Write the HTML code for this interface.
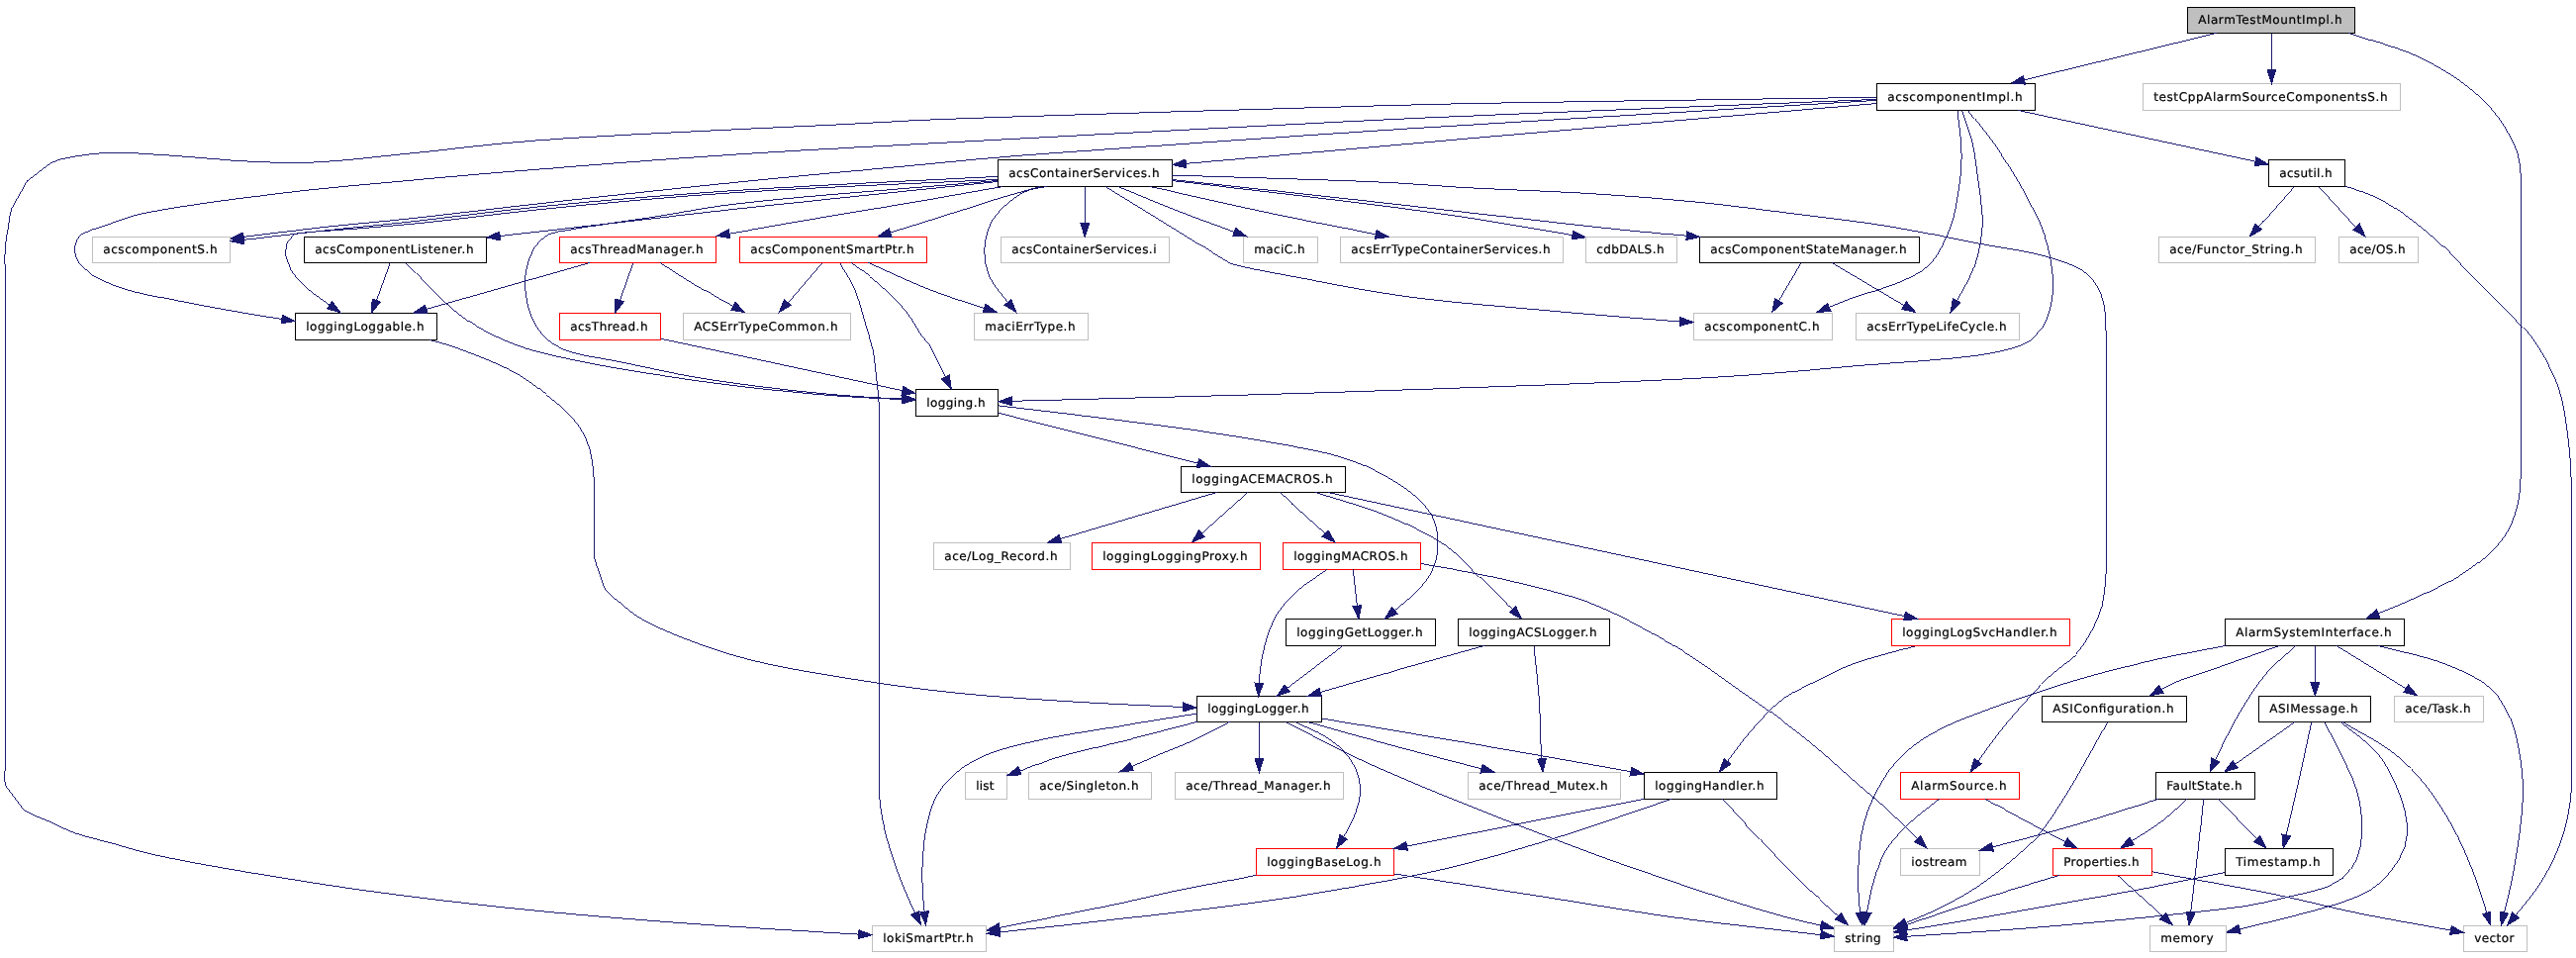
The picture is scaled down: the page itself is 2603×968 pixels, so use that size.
<!DOCTYPE html>
<html><head><meta charset="utf-8"><title>AlarmTestMountImpl.h include graph</title>
<style>html,body{margin:0;padding:0;background:#fff}svg{display:block;will-change:transform}text{font-family:"DejaVu Sans","Liberation Sans",sans-serif;font-size:12px;fill:#000;stroke:#000;stroke-width:.22px;text-rendering:geometricPrecision}.e{fill:none;stroke:#191970;stroke-width:.99}.a{fill:#191970;stroke:#191970;stroke-width:1}</style></head><body>
<svg width="2603" height="968" viewBox="0 0 2603 968">
<rect x="0" y="0" width="2603" height="968" fill="#fff"/>
<g shape-rendering="crispEdges">
<rect x="2210.5" y="7.5" width="169" height="26" fill="#bfbfbf" stroke="#000"/>
<rect x="1896.5" y="84.5" width="160" height="27" fill="#fff" stroke="#000"/>
<rect x="2165.5" y="84.5" width="260" height="27" fill="#fff" stroke="#bfbfbf"/>
<rect x="1008.5" y="161.5" width="176" height="27" fill="#fff" stroke="#000"/>
<rect x="2292.5" y="161.5" width="77" height="27" fill="#fff" stroke="#000"/>
<rect x="93.5" y="239.5" width="139" height="26" fill="#fff" stroke="#bfbfbf"/>
<rect x="307.5" y="239.5" width="184" height="26" fill="#fff" stroke="#000"/>
<rect x="565.5" y="239.5" width="158" height="26" fill="#fff" stroke="#ff0000"/>
<rect x="747.5" y="239.5" width="189" height="26" fill="#fff" stroke="#ff0000"/>
<rect x="1011.5" y="239.5" width="170" height="26" fill="#fff" stroke="#bfbfbf"/>
<rect x="1256.5" y="239.5" width="75" height="26" fill="#fff" stroke="#bfbfbf"/>
<rect x="1354.5" y="239.5" width="225" height="26" fill="#fff" stroke="#bfbfbf"/>
<rect x="1602.5" y="239.5" width="92" height="26" fill="#fff" stroke="#bfbfbf"/>
<rect x="1717.5" y="239.5" width="222" height="26" fill="#fff" stroke="#000"/>
<rect x="2181.5" y="239.5" width="158" height="26" fill="#fff" stroke="#bfbfbf"/>
<rect x="2363.5" y="239.5" width="80" height="26" fill="#fff" stroke="#bfbfbf"/>
<rect x="298.5" y="316.5" width="143" height="27" fill="#fff" stroke="#000"/>
<rect x="565.5" y="316.5" width="102" height="27" fill="#fff" stroke="#ff0000"/>
<rect x="690.5" y="316.5" width="169" height="27" fill="#fff" stroke="#bfbfbf"/>
<rect x="984.5" y="316.5" width="115" height="27" fill="#fff" stroke="#bfbfbf"/>
<rect x="1711.5" y="316.5" width="140" height="27" fill="#fff" stroke="#bfbfbf"/>
<rect x="1875.5" y="316.5" width="165" height="27" fill="#fff" stroke="#bfbfbf"/>
<rect x="925.5" y="393.5" width="83" height="27" fill="#fff" stroke="#000"/>
<rect x="1193.5" y="471.5" width="166" height="26" fill="#fff" stroke="#000"/>
<rect x="943.5" y="548.5" width="138" height="27" fill="#fff" stroke="#bfbfbf"/>
<rect x="1103.5" y="548.5" width="170" height="27" fill="#fff" stroke="#ff0000"/>
<rect x="1296.5" y="548.5" width="139" height="27" fill="#fff" stroke="#ff0000"/>
<rect x="1299.5" y="625.5" width="151" height="27" fill="#fff" stroke="#000"/>
<rect x="1473.5" y="625.5" width="153" height="27" fill="#fff" stroke="#000"/>
<rect x="1911.5" y="625.5" width="180" height="27" fill="#fff" stroke="#ff0000"/>
<rect x="2248.5" y="625.5" width="181" height="27" fill="#fff" stroke="#000"/>
<rect x="1209.5" y="703.5" width="126" height="26" fill="#fff" stroke="#000"/>
<rect x="2063.5" y="703.5" width="146" height="26" fill="#fff" stroke="#000"/>
<rect x="2282.5" y="703.5" width="113" height="26" fill="#fff" stroke="#000"/>
<rect x="2419.5" y="703.5" width="90" height="26" fill="#fff" stroke="#bfbfbf"/>
<rect x="975.5" y="780.5" width="42" height="27" fill="#fff" stroke="#bfbfbf"/>
<rect x="1039.5" y="780.5" width="124" height="27" fill="#fff" stroke="#bfbfbf"/>
<rect x="1187.5" y="780.5" width="170" height="27" fill="#fff" stroke="#bfbfbf"/>
<rect x="1483.5" y="780.5" width="154" height="27" fill="#fff" stroke="#bfbfbf"/>
<rect x="1661.5" y="780.5" width="134" height="27" fill="#fff" stroke="#000"/>
<rect x="1920.5" y="780.5" width="120" height="27" fill="#fff" stroke="#ff0000"/>
<rect x="2178.5" y="780.5" width="100" height="27" fill="#fff" stroke="#000"/>
<rect x="1269.5" y="857.5" width="139" height="27" fill="#fff" stroke="#ff0000"/>
<rect x="1920.5" y="857.5" width="80" height="27" fill="#fff" stroke="#bfbfbf"/>
<rect x="2074.5" y="857.5" width="100" height="27" fill="#fff" stroke="#ff0000"/>
<rect x="2248.5" y="857.5" width="109" height="27" fill="#fff" stroke="#000"/>
<rect x="881.5" y="935.5" width="115" height="26" fill="#fff" stroke="#bfbfbf"/>
<rect x="1853.5" y="935.5" width="60" height="26" fill="#fff" stroke="#bfbfbf"/>
<rect x="2172.5" y="935.5" width="77" height="26" fill="#fff" stroke="#bfbfbf"/>
<rect x="2489.5" y="935.5" width="64" height="26" fill="#fff" stroke="#bfbfbf"/>
</g>
<g shape-rendering="crispEdges">
<polyline class="e" points="2239.5,33.5 2045.4,80.8"/>
<polygon class="a" points="2044.4,76.6 2032.5,84 2046.5,85.1"/>
<polyline class="e" points="2295.5,33.5 2295.5,70.7"/>
<polygon class="a" points="2291.1,70.7 2295.5,84 2299.9,70.7"/>
<polyline class="e" points="2372.5,33.5 2384.4,37.3 2396.5,40.9 2408.6,44.5 2420.6,48.3 2432.1,52.4 2443,57 2454.2,62.5 2465,68.5 2475.4,74.8 2485.1,81.3 2494,88 2502.6,95.1 2510.4,102.3 2517.5,109.9 2524,118 2530.1,126.9 2535.7,136.4 2540.5,146 2544,155 2546.5,166.9 2547.3,180 2547.7,189.3 2547.8,199.7 2547.7,211.1 2547.6,223.4 2547.4,236.4 2547.3,250 2547.3,260.7 2547.3,272.4 2547.3,284.9 2547.3,297.9 2547.3,311.4 2547.3,325 2547.3,338.6 2547.3,352.1 2547.3,365.1 2547.3,377.6 2547.3,389.3 2547.3,400 2547.4,413.4 2547.5,426.1 2547.6,438 2547.6,449.2 2547.6,459.9 2547.3,470 2547,483.6 2546.3,496 2544.5,508 2541.4,519.7 2537.1,531.1 2531,542 2523.6,551.1 2514.6,559.9 2504.5,568.2 2494,576 2484.6,582.1 2474.5,587.7 2464.1,593 2453.5,598.1 2443,603 2432.7,607.7 2422.3,612.1 2411.9,616.4 2403.3,619.9"/>
<polygon class="a" points="2401.6,615.9 2391,625 2405,624"/>
<polyline class="e" points="2039.3,111.5 2279,163.2"/>
<polygon class="a" points="2278.1,167.5 2292,166 2279.9,158.9"/>
<polyline class="e" points="1896,104.6 1884,105.6 1871.7,106.7 1859.3,107.8 1846.6,108.8 1833.7,109.9 1820.7,111 1807.6,112.2 1794.4,113.3 1781.1,114.4 1767.7,115.6 1754.3,116.7 1740.8,117.9 1727.4,119 1714,120.2 1700.7,121.3 1687.4,122.4 1674.2,123.6 1661.2,124.7 1648.3,125.8 1635.6,126.9 1623,128 1610.7,129 1598.6,130 1586.7,131.1 1575.2,132.1 1563.9,133 1553,134 1542.4,134.9 1532.2,135.8 1522.4,136.6 1513,137.4 1504,138.2 1495.5,138.9 1487.5,139.6 1480,140.3 1465.6,141.6 1453.7,142.6 1443.4,143.6 1433.7,144.5 1423.9,145.4 1412.9,146.3 1400,147.5 1390.6,148.3 1380.7,149.2 1370.2,150.1 1359.2,151.1 1347.8,152.1 1336,153.2 1324,154.2 1311.6,155.3 1299,156.4 1286.3,157.6 1273.4,158.7 1260.5,159.8 1247.6,161 1234.8,162.1 1222,163.2 1209.5,164.3 1198.2,165.3"/>
<polygon class="a" points="1197.9,160.9 1185,166.5 1198.6,169.7"/>
<polyline class="e" points="1896,101.4 1884,102.1 1871.7,102.9 1859.3,103.6 1846.6,104.4 1833.7,105.2 1820.7,105.9 1807.6,106.7 1794.4,107.5 1781.1,108.3 1767.7,109.1 1754.3,109.9 1740.8,110.7 1727.4,111.5 1714,112.4 1700.7,113.2 1687.4,114 1674.2,114.7 1661.2,115.5 1648.3,116.3 1635.6,117.1 1623,117.8 1610.7,118.6 1598.6,119.3 1586.7,120 1575.2,120.7 1563.9,121.4 1553,122.1 1542.4,122.7 1532.2,123.3 1522.4,123.9 1513,124.5 1504,125 1495.5,125.5 1487.5,126 1480,126.5 1465.8,127.4 1454.3,128.1 1444.5,128.7 1435.2,129.2 1425.4,129.8 1414,130.6 1400,131.5 1392.2,132 1383.7,132.6 1374.4,133.2 1364.4,133.9 1353.8,134.6 1342.7,135.3 1331,136.1 1318.9,136.9 1306.3,137.8 1293.3,138.7 1280.1,139.6 1266.5,140.5 1252.8,141.4 1238.8,142.4 1224.8,143.4 1210.7,144.3 1196.5,145.3 1182.5,146.3 1168.5,147.3 1154.6,148.2 1140.9,149.2 1127.5,150.2 1114.3,151.1 1101.5,152 1089.1,152.9 1077.1,153.8 1065.7,154.6 1054.7,155.4 1044.4,156.2 1034.7,156.9 1025.7,157.6 1017.4,158.3 1010,158.9 995.5,160.1 983.8,161.2 973.7,162.2 963.9,163.2 953.1,164.2 940,165.5 930.9,166.4 921.1,167.3 910.7,168.3 899.8,169.3 888.4,170.3 876.7,171.4 864.5,172.6 852.2,173.7 839.6,174.9 826.9,176.1 814.1,177.3 801.3,178.6 788.6,179.8 776.1,181 763.8,182.2 751.7,183.4 740,184.6 727.5,185.9 714.9,187.2 702.4,188.5 689.8,189.8 677.3,191.2 664.8,192.5 652.4,193.8 640,195.2 627.7,196.5 615.5,197.9 603.3,199.2 591.3,200.6 579.4,201.9 567.6,203.2 556,204.5 543.1,206 530.2,207.4 517.4,208.9 504.6,210.4 491.9,211.9 479.4,213.4 467.1,214.8 455.1,216.2 443.3,217.6 431.8,218.9 420.7,220.1 410,221.3 396.8,222.7 384.4,223.9 372.6,225 361.1,226.1 349.6,227.2 338,228.4 326,229.7 314.6,231 303.1,232.3 291.5,233.8 279.8,235.2 268.1,236.7 256.4,238.1 246.2,239.4"/>
<polygon class="a" points="245.7,235 233,241 246.7,243.7"/>
<polyline class="e" points="1896,100.4 1884,100.9 1871.7,101.4 1859.3,101.9 1846.6,102.4 1833.7,102.9 1820.7,103.4 1807.6,104 1794.4,104.5 1781.1,105 1767.7,105.6 1754.3,106.1 1740.8,106.7 1727.4,107.2 1714,107.7 1700.7,108.3 1687.4,108.8 1674.2,109.3 1661.2,109.9 1648.3,110.4 1635.6,110.9 1623,111.4 1610.7,111.9 1598.6,112.4 1586.7,112.9 1575.2,113.4 1563.9,113.8 1553,114.3 1542.4,114.7 1532.2,115.1 1522.4,115.5 1513,115.9 1504,116.3 1495.5,116.6 1487.5,117 1480,117.3 1465.9,117.9 1454.5,118.4 1444.8,118.8 1435.6,119.2 1425.8,119.7 1414.3,120.2 1400,120.9 1392.6,121.3 1384.5,121.7 1375.8,122.1 1366.6,122.6 1356.8,123 1346.6,123.6 1335.8,124.1 1324.7,124.7 1313.1,125.3 1301.2,125.9 1288.9,126.5 1276.3,127.2 1263.4,127.8 1250.2,128.5 1236.9,129.2 1223.3,129.9 1209.6,130.6 1195.8,131.3 1181.8,132.1 1167.8,132.8 1153.8,133.5 1139.8,134.3 1125.8,135 1111.8,135.7 1098,136.5 1084.2,137.2 1070.6,137.9 1057.2,138.6 1044,139.3 1031.1,140 1018.4,140.7 1006,141.3 994,142 982.3,142.6 971.1,143.2 960.2,143.8 949.9,144.4 940,144.9 926.1,145.7 912.7,146.4 899.8,147.1 887.3,147.7 875.2,148.4 863.3,149 851.8,149.7 840.5,150.3 829.3,150.9 818.2,151.5 807.3,152.1 796.3,152.8 785.3,153.4 774.2,154.1 763,154.8 751.6,155.5 740,156.3 728.2,157.1 716.2,157.9 704.1,158.8 691.9,159.6 679.6,160.5 667.4,161.4 655.1,162.3 642.9,163.3 630.8,164.2 618.8,165.1 606.9,166.1 595.2,167 583.6,167.9 572.3,168.8 561.2,169.7 550.5,170.6 540,171.4 526.7,172.5 514,173.5 501.8,174.5 490,175.5 478.3,176.5 466.8,177.6 455.2,178.6 443.4,179.6 431.4,180.7 419,181.9 407.3,183 395.3,184.1 383.2,185.2 371,186.3 358.7,187.4 346.3,188.6 333.8,189.8 321.4,191.1 309,192.3 296.7,193.7 284.5,195.1 272.5,196.6 259.5,198.3 246,200 232.2,201.8 218.2,203.7 204.4,205.7 190.9,207.7 178,209.7 165.9,211.7 154.7,213.7 144.8,215.7 136.3,217.6 120.7,222.6 108,227.5 93.4,232 81.8,236.9 77,243.5 75.1,251.1 76.5,259 79.7,265.8 92.2,277.3 101.6,282.5 113,287.5 125.8,292 137,295.2 149.4,298 162.5,300.6 175.8,303.1 188.7,305.6 201.4,308.1 214.3,310.5 227.1,312.8 239.6,315 251.6,317.1 263.7,319.1 275.2,320.9 284.9,322.4"/>
<polygon class="a" points="284.2,326.8 298,324.5 285.5,318.1"/>
<polyline class="e" points="1896,98.3 1884,98.5 1871.7,98.7 1859.3,98.9 1846.6,99 1833.7,99.2 1820.7,99.4 1807.6,99.6 1794.4,99.8 1781.1,100 1767.7,100.2 1754.3,100.4 1740.8,100.6 1727.4,100.8 1714,101 1700.7,101.2 1687.4,101.4 1674.2,101.6 1661.2,101.8 1648.3,101.9 1635.6,102.1 1623,102.3 1610.7,102.5 1598.6,102.7 1586.7,102.9 1575.2,103.1 1563.9,103.2 1553,103.4 1542.4,103.6 1532.2,103.8 1522.4,103.9 1513,104.1 1504,104.2 1495.5,104.4 1487.5,104.6 1480,104.7 1465.9,105 1454.5,105.2 1444.8,105.5 1435.6,105.7 1425.8,106 1414.3,106.3 1400,106.7 1392.5,106.9 1384.2,107.1 1375.2,107.4 1365.6,107.7 1355.3,108 1344.4,108.3 1332.9,108.6 1321,108.9 1308.6,109.3 1295.8,109.7 1282.6,110.1 1269.1,110.5 1255.3,110.9 1241.3,111.3 1227,111.7 1212.6,112.1 1198,112.6 1183.4,113 1168.8,113.4 1154.1,113.9 1139.5,114.3 1125,114.8 1110.6,115.2 1096.4,115.7 1082.4,116.1 1068.7,116.5 1055.3,117 1042.2,117.4 1029.6,117.8 1017.3,118.2 1005.6,118.6 994.3,119 983.6,119.4 973.5,119.7 964.1,120.1 955.3,120.4 947.3,120.7 940,121 925,121.7 913.3,122.2 903.4,122.8 893.5,123.4 882.3,124 868,124.8 859.8,125.2 850.8,125.7 841.1,126.2 830.7,126.7 819.6,127.2 808,127.7 795.9,128.3 783.3,128.9 770.3,129.5 757,130.1 743.5,130.8 729.7,131.4 715.8,132.1 701.8,132.8 687.8,133.5 673.8,134.2 659.9,134.9 646.2,135.6 632.7,136.3 619.5,137 606.7,137.8 594.2,138.5 582.2,139.2 570.7,139.9 559.8,140.7 549.5,141.4 540,142.1 525.5,143.3 511.9,144.5 499.1,145.8 486.9,147.1 475.2,148.3 463.9,149.6 452.8,150.9 441.7,152.1 430.5,153.3 419,154.5 406.9,155.7 394.8,157 382.6,158.3 370.6,159.6 358.7,160.8 347.1,161.9 335.8,162.8 324.9,163.6 314.5,164.1 301.1,164.4 288.6,164.4 276.6,164.2 264.5,163.7 251.6,163.1 240.1,162.5 227.9,161.6 215.5,160.6 202.9,159.5 190.6,158.5 178.8,157.6 167.7,156.8 153.4,155.9 139.9,155 127.2,154.4 115.3,154.3 104.2,154.7 94,155.5 83.9,156.8 72.8,158.6 61.7,160.9 52.4,164.1 39.8,173.5 27.3,183 19.4,197.2 11.5,211.3 9.6,220.4 8.4,230 6.7,239.1 5.3,249 4.9,260.4 5.1,273.2 5.3,286.8 5.3,298.8 5.3,311 5.3,324.5 5.3,340 5.3,349.4 5.3,359.7 5.3,370.7 5.3,382.3 5.3,394.5 5.3,407.1 5.3,420 5.3,433.3 5.3,446.6 5.3,460.1 5.3,473.5 5.3,486.9 5.3,500 5.3,511.3 5.3,523.1 5.3,535.2 5.3,547.6 5.3,560.1 5.3,572.8 5.3,585.6 5.3,598.3 5.3,610.9 5.3,623.4 5.3,635.6 5.3,647.5 5.3,659.1 5.3,670.2 5.3,680.7 5.3,690.7 5.3,700 5.3,715.2 5.3,729.5 5.3,742.9 5.3,755.1 5.3,765.8 5.3,775 4.6,785.3 5.3,793.4 14.5,805.7 23.6,818 35.3,824.2 48.9,829.6 61.1,835.6 74.2,841.3 86.7,845.2 100.2,848.7 113.8,852.2 125.9,855.8 138,859.3 153.4,863.2 161.2,864.9 169.9,866.7 179.6,868.6 190,870.6 201.1,872.7 212.7,874.8 224.8,876.9 237.3,879.1 250,881.3 262.9,883.4 275.8,885.5 288.6,887.6 301.3,889.6 313.6,891.6 325.7,893.5 337.2,895.2 349.4,897 361.6,898.8 373.8,900.5 385.8,902.1 397.9,903.7 409.9,905.3 421.9,906.8 433.9,908.3 445.8,909.7 457.8,911.1 469.8,912.5 481.8,913.9 493.8,915.2 505.8,916.5 517.8,917.8 529.8,919 541.7,920.2 553.6,921.4 565.5,922.5 577.4,923.6 589.3,924.6 601.3,925.7 613.3,926.7 625.4,927.7 637.5,928.7 649.7,929.7 662,930.6 674.4,931.6 686.5,932.5 699.5,933.5 713.1,934.4 727.2,935.4 741.5,936.3 756,937.2 770.4,938.2 784.6,939.1 798.3,939.9 811.5,940.7 823.9,941.5 835.3,942.2 845.6,942.8 854.6,943.3 862.1,943.8 867.7,944.1"/>
<polygon class="a" points="867.5,948.5 881,944.8 868,939.7"/>
<polyline class="e" points="1978,111.5 1979.4,123.6 1980.8,135.7 1981.7,146.8 1982.1,157.8 1981.8,168.6 1981,178.4 1979.7,188.7 1978,199 1976.3,209.1 1974.2,219.1 1971,229.3 1967.1,238.9 1962.4,248.9 1957,258.4 1950.8,266.4 1942.9,273.2 1934,278.4 1923.8,283.3 1914.1,287.3 1903.1,291.1 1891.5,294.7 1880.2,298.3 1869.9,301.8 1858,306.4 1848.3,310.4"/>
<polygon class="a" points="1846.6,306.4 1836,315.5 1850,314.5"/>
<polyline class="e" points="1982.8,111.5 1986.5,122.5 1990.1,133.6 1993.2,144.7 1995.4,155.5 1996.9,166.5 1998.4,178.2 2000.1,190.4 2001.8,203.5 2003,216.7 2003.1,229.3 2001.6,243.2 1998.8,256.5 1994.7,269.8 1989.8,281.2 1983.8,292.6 1977.4,303.8"/>
<polygon class="a" points="1973.5,301.7 1971,315.5 1981.3,306"/>
<polyline class="e" points="1989,111.5 1996,120.4 2003,129.3 2009.9,138.1 2016.3,146.8 2022.9,156.5 2028.9,165.9 2035.1,176.1 2041.2,186.4 2047.5,197.5 2053.6,208.7 2058.7,219.2 2063,229.1 2066.4,238.5 2069.3,248.5 2072.1,262.2 2074,276.7 2074.7,290 2073.6,302.7 2071,314 2068.1,323 2064,331 2052,344 2043.1,348.6 2032,352.3 2018,355.7 2009.3,357.4 1999.4,358.9 1988.3,360.3 1976.2,361.6 1963.5,362.8 1950.2,363.9 1936.5,365 1922.7,366.1 1909,367.1 1895.5,368.1 1882.4,369.1 1870,370.2 1857.8,371.3 1846.1,372.4 1834.8,373.4 1823.5,374.4 1812.3,375.4 1801,376.4 1789.3,377.3 1777.1,378.2 1764.3,379.2 1750.6,380.1 1736,381 1726.7,381.5 1717,382.1 1707,382.6 1696.6,383.2 1685.9,383.7 1674.9,384.2 1663.7,384.7 1652.2,385.3 1640.4,385.8 1628.5,386.3 1616.3,386.8 1604,387.3 1591.5,387.8 1578.9,388.3 1566.1,388.8 1553.3,389.3 1540.4,389.7 1527.4,390.2 1514.4,390.7 1501.3,391.1 1488.3,391.6 1475.2,392 1462.3,392.5 1449.3,392.9 1436.5,393.4 1423.7,393.8 1411.1,394.2 1398.5,394.7 1386.2,395.1 1374,395.5 1361.9,395.9 1349.7,396.3 1337.6,396.7 1325.4,397.1 1313.3,397.5 1301.1,397.8 1288.9,398.2 1276.8,398.5 1264.6,398.9 1252.5,399.2 1240.3,399.6 1228.1,399.9 1215.9,400.2 1203.8,400.5 1191.6,400.9 1179.4,401.2 1167.3,401.5 1155.1,401.8 1142.9,402.1 1130.7,402.5 1118.5,402.8 1106.4,403.1 1094.2,403.4 1082,403.7 1069.9,404.1 1057.7,404.4 1045.5,404.7 1033.3,405 1022.3,405.3"/>
<polygon class="a" points="1022.2,400.9 1009,405.7 1022.4,409.7"/>
<polyline class="e" points="1008,178.3 995.8,179 983.4,179.6 971,180.2 958.6,180.9 946.1,181.5 933.5,182.1 921,182.7 908.4,183.4 895.9,184 883.3,184.6 870.8,185.2 858.4,185.9 846,186.5 833.7,187.2 821.5,187.8 809.4,188.5 797.5,189.2 785.6,189.8 774,190.5 762.5,191.2 751.1,192 740,192.7 726.7,193.6 713.6,194.5 700.7,195.5 688,196.4 675.5,197.3 663.1,198.3 650.8,199.3 638.7,200.3 626.7,201.3 614.8,202.3 603,203.3 591.2,204.4 579.6,205.5 568,206.6 556.4,207.7 543.4,209 530.5,210.4 517.5,211.9 504.6,213.3 491.8,214.8 479.2,216.4 466.8,217.9 454.6,219.3 442.8,220.8 431.3,222.1 420.2,223.4 409.6,224.6 397,225.9 385.3,227.2 374.2,228.3 363.4,229.4 352.6,230.4 341.6,231.6 330,232.8 318.3,234.1 306.4,235.4 294.3,236.8 282.1,238.2 269.8,239.6 257.5,241 246.2,242.3"/>
<polygon class="a" points="245.7,237.9 233,243.8 246.7,246.7"/>
<polyline class="e" points="1008,181.4 995.8,182 983.4,182.6 971,183.2 958.6,183.8 946.1,184.3 933.5,184.9 921,185.5 908.4,186 895.9,186.6 883.3,187.1 870.8,187.7 858.4,188.3 846,188.9 833.7,189.5 821.5,190.1 809.4,190.7 797.5,191.3 785.6,192 774,192.7 762.5,193.4 751.1,194.1 740,194.8 726.7,195.7 713.6,196.7 700.6,197.6 687.8,198.6 675.2,199.6 662.8,200.7 650.4,201.7 638.3,202.8 626.2,203.9 614.3,204.9 602.5,206 590.8,207.1 579.3,208.3 567.8,209.4 556.4,210.5 544.2,211.8 532,213.1 519.9,214.4 508,215.8 496.2,217.2 484.6,218.6 473.1,220 461.9,221.3 450.8,222.6 440,223.8 429.4,225 419,226 404.7,227.3 390.1,228.6 375.9,229.8 362.3,230.9 349.8,231.8 338.9,232.6 330,233.3 313,234.4 296.4,236.5 290.2,244.4 288.1,256.9 294.4,273.6 300.9,282.2 309,290.3 319.4,298.5 330,306 333.2,308.3"/>
<polygon class="a" points="330.6,311.8 344,316 335.7,304.7"/>
<polyline class="e" points="1008,183.5 995.7,184.8 983.2,186.1 970.6,187.4 957.8,188.7 945,190.1 932.1,191.4 919.1,192.7 906.1,194.1 893.1,195.4 880.2,196.8 867.4,198.1 854.7,199.4 842.1,200.7 829.7,202 817.5,203.3 805.5,204.6 793.7,205.8 782.3,207 771.2,208.2 760.4,209.4 750,210.5 740,211.6 726,213.2 712.9,214.6 700.4,216.1 688.4,217.4 676.9,218.8 665.5,220.1 654.2,221.4 642.9,222.8 631.3,224.1 619.3,225.5 607.9,226.8 596.4,228.1 584.8,229.4 573.3,230.8 561.7,232.1 550.1,233.4 538.4,234.7 526.8,236 515.2,237.4 505.2,238.5"/>
<polygon class="a" points="504.7,234.1 492,240 505.7,242.9"/>
<polyline class="e" points="1008,182.5 995.7,183.6 983,184.7 970.2,185.8 957.1,186.9 943.9,188 930.6,189.1 917.2,190.2 903.8,191.3 890.5,192.4 877.2,193.5 864,194.6 851,195.7 838.3,196.7 825.7,197.8 813.5,198.9 801.6,200 790.1,201.1 779,202.2 768.4,203.3 758.4,204.4 748.9,205.4 740,206.5 726.2,208.3 714,210.2 702.9,212 692.5,213.8 682.4,215.6 672,217.4 661,219.2 648.7,221.1 635.8,222.9 622.6,224.8 609.7,226.7 597.5,228.5 586.6,230.2 577.4,231.8 564.5,233.8 554.3,237 546.1,242.8 539.6,250.6 534.3,262.7 531.2,275.8 530.4,286.3 531.2,296.8 533.3,308.6 537,320 542.2,330.2 549,339.2 557.7,346.8 569,353 578.2,356.2 589,358.8 600.9,361 613.4,363.2 626,365.6 637.1,367.9 648.5,370.4 660.3,372.9 672.5,375.4 684.8,377.9 697.3,380.2 710,382.4 721.2,384.2 732.9,385.9 744.9,387.6 757.1,389.2 769.2,390.8 781.2,392.2 792.8,393.6 804,394.9 814.5,396 828.2,397.4 841.2,398.6 853.6,399.6 865.6,400.5 877.4,401.3 889.8,402 901.6,402.5 911.7,402.9"/>
<polygon class="a" points="911.5,407.3 925,403.4 911.9,398.5"/>
<polyline class="e" points="1013.4,188.5 1001.7,190.6 990,192.6 978.3,194.7 966.7,196.7 955,198.8 943.2,200.9 931.3,202.9 919.3,205 907.9,206.9 896.2,208.9 884.5,210.8 872.7,212.8 860.9,214.7 849.1,216.7 837.4,218.6 825.8,220.6 814.5,222.5 802.9,224.5 791.4,226.5 780.1,228.5 768.8,230.5 757.6,232.5 746.5,234.5 737.1,236.2"/>
<polygon class="a" points="736.3,231.8 724,238.5 737.9,240.5"/>
<polyline class="e" points="1051,188.5 1041,191.3 1031.2,194.1 1021,197 1010,200.3 999.3,203.6 987.7,207.3 975.5,211.1 963.3,215.1 951.3,218.9 940,222.5 928.9,226 918.3,229.3 907.8,232.5 899.7,235.1"/>
<polygon class="a" points="898.4,230.9 887,239 901,239.3"/>
<polyline class="e" points="1058.4,188.5 1049.1,189.9 1040,192 1031.9,195.6 1024,200.8 1012.7,210.2 1003,222 998.6,231.8 995.8,242.7 994.6,253.3 996,267.3 1000,280 1004.5,287.8 1010,295 1018.2,305.2 1018.4,305.5"/>
<polygon class="a" points="1015.1,308.3 1027,315.7 1021.8,302.7"/>
<polyline class="e" points="1096.2,188.5 1096.2,225.7"/>
<polygon class="a" points="1091.8,225.7 1096.2,239 1100.6,225.7"/>
<polyline class="e" points="1117,188.5 1127.8,195.2 1138.8,201.9 1149.6,208.6 1160.3,215.1 1170.6,221.5 1181.7,228.4 1192.7,235.2 1203.1,241.7 1212.5,247.5 1224.8,255.1 1235,261.3 1243.8,266.5 1256,269.6 1266.9,271.9 1280.4,274.5 1296.4,277.5 1305.9,279.3 1316.5,281.3 1327.9,283.5 1340.1,285.9 1352.8,288.3 1365.9,290.7 1379.3,293 1392.7,295.3 1406,297.4 1419,299.3 1430.7,300.9 1442.6,302.3 1454.7,303.7 1466.9,305 1479.2,306.2 1491.6,307.4 1504,308.5 1516.3,309.6 1528.7,310.7 1540.9,311.8 1553,312.8 1565,313.9 1577.8,315.1 1591.4,316.3 1605.5,317.5 1619.7,318.7 1633.7,319.8 1647.3,321 1660.1,322 1671.9,322.9 1682.4,323.8 1691.2,324.4 1697.7,324.9"/>
<polygon class="a" points="1697.5,329.3 1711,325.6 1698,320.5"/>
<polyline class="e" points="1129.7,188.5 1140,192.7 1150.2,196.9 1160.4,201.2 1170.7,205.4 1181.1,209.6 1191.6,213.7 1202.7,218 1214,222.2 1225.4,226.4 1236.9,230.6 1247.2,234.4"/>
<polygon class="a" points="1245.7,238.5 1259.7,239 1248.7,230.3"/>
<polyline class="e" points="1162.2,188.5 1173.5,191 1184.7,193.6 1195.9,196.1 1207.1,198.6 1218.4,201.2 1229.6,203.7 1240.9,206.2 1252.3,208.7 1263.8,211.2 1275.4,213.7 1286.7,216.1 1298.2,218.4 1309.7,220.8 1321.3,223.2 1333,225.5 1344.7,227.8 1356.5,230.2 1368.2,232.5 1379.9,234.8 1390.3,236.9"/>
<polygon class="a" points="1389.4,241.2 1403.3,239.5 1391.1,232.6"/>
<polyline class="e" points="1184.4,182.5 1196.5,184 1208.9,185.4 1221.5,186.9 1234.3,188.4 1247.2,190 1260.2,191.5 1273.1,193 1286,194.5 1298.8,196 1311.4,197.5 1323.8,199 1335.9,200.5 1347.7,201.9 1359.1,203.3 1370.1,204.6 1380.6,205.9 1390.6,207.2 1400,208.4 1413.3,210.1 1425.2,211.7 1436.1,213.2 1446.6,214.6 1457.1,216.1 1468,217.7 1480,219.5 1491.2,221.2 1502.8,223.1 1514.7,225.1 1527,227.1 1539.4,229.2 1552,231.3 1564.6,233.5 1577.2,235.6 1588.9,237.6"/>
<polygon class="a" points="1588.2,241.9 1602,239.8 1589.6,233.3"/>
<polyline class="e" points="1184.4,181.5 1196.4,182.8 1208.6,184.2 1220.8,185.5 1233.1,186.8 1245.4,188.2 1257.8,189.5 1270.2,190.9 1282.5,192.2 1294.8,193.6 1307,194.9 1319.2,196.2 1331.2,197.6 1343.1,198.9 1354.9,200.2 1366.5,201.5 1377.9,202.7 1389,204 1400,205.2 1413.3,206.7 1426.4,208.2 1439.3,209.7 1451.9,211.1 1464.4,212.6 1476.7,214 1488.8,215.4 1500.7,216.7 1512.5,218.1 1524.1,219.4 1535.5,220.7 1546.8,222 1559.3,223.4 1571.7,224.8 1583.9,226.2 1595.9,227.5 1607.6,228.8 1619.1,230.1 1630.3,231.3 1641.1,232.4 1651.6,233.5 1663.5,234.6 1674.7,235.7 1685.5,236.6 1696.1,237.5 1704.3,238.2"/>
<polygon class="a" points="1703.9,242.6 1717.5,239.4 1704.6,233.9"/>
<polyline class="e" points="1184.4,177 1196.5,177.4 1208.9,177.8 1221.5,178.2 1234.3,178.6 1247.2,179 1260.1,179.4 1273.1,179.8 1286,180.2 1298.8,180.6 1311.4,181 1323.8,181.4 1335.9,181.8 1347.7,182.2 1359.1,182.6 1370.1,183 1380.6,183.4 1390.6,183.9 1400,184.3 1413.3,185 1425.1,185.8 1436,186.5 1446.4,187.3 1456.9,188 1467.9,188.8 1480,189.5 1490.7,190.1 1501.9,190.6 1513.5,191.2 1525.4,191.7 1537.6,192.2 1549.9,192.7 1562.2,193.3 1574.4,193.9 1586.5,194.5 1598.2,195.1 1609.6,195.8 1621.7,196.6 1633.7,197.4 1645.4,198.3 1657,199.1 1668.5,200 1680,201 1691.4,202 1702.9,203.1 1714.5,204.2 1726.2,205.4 1738,206.7 1749.9,208.1 1761.7,209.5 1773.5,211 1785.2,212.5 1796.8,213.9 1808.2,215.4 1819.3,216.8 1831.8,218.4 1843.8,219.8 1855.7,221.3 1867.4,222.8 1879.3,224.4 1891.3,226.1 1903.6,228 1914.6,229.8 1926,231.9 1937.7,234 1949.5,236.2 1961.2,238.5 1972.8,240.8 1984,243 1994.7,245.1 2004.8,247 2017.6,249.3 2029.7,251.2 2041.3,253.2 2052.3,255.4 2063,258 2074.6,261.3 2086.1,265 2096.4,269.1 2104.9,273.7 2112.9,280.6 2118.6,288.4 2122.9,297 2125.9,307.2 2127.2,316.2 2127.8,326.3 2128.1,337.6 2128.3,350 2128.5,360.4 2128.6,371.8 2128.6,383.9 2128.6,396.7 2128.5,409.8 2128.4,423.2 2128.3,436.7 2128.3,450 2128.3,462.4 2128.4,475.6 2128.5,489.5 2128.6,503.6 2128.7,517.6 2128.8,531.2 2128.8,544.1 2128.7,555.9 2128.6,566.3 2128.3,575 2127.4,589.2 2126.2,600 2124,612.6 2120.1,623.7 2114.6,635.6 2109.8,644.2 2104.3,652.7 2097.9,660.8 2089.5,668.6 2080.1,675.9 2070.6,683.9 2062.6,691.8 2054.5,700.4 2046.6,709.1 2039.2,717.4 2031.9,725.8 2025.1,733.9 2018.2,742.6 2011.6,751.4 2004.8,760.8 1998.8,769.2"/>
<polygon class="a" points="1995.2,766.6 1991,780 2002.3,771.8"/>
<polyline class="e" points="2317.7,188.5 2282.1,229"/>
<polygon class="a" points="2278.8,226.1 2273.3,239 2285.4,231.9"/>
<polyline class="e" points="2343.9,188.5 2381,229.2"/>
<polygon class="a" points="2377.8,232.1 2390,239 2384.3,226.2"/>
<polyline class="e" points="2369.5,188.4 2379.1,191.4 2388.8,194.4 2398.4,198.2 2409,203.7 2419.5,210.1 2429.9,217.1 2440.4,224.7 2450.7,233 2461.3,242.2 2469.5,249.9 2478.1,258.4 2486.7,267.2 2495.2,276 2503.3,284.2 2511.6,292.5 2519.6,300.4 2527.3,308.1 2534.7,315.6 2542.8,323.5 2550.4,331.1 2557.8,340 2563.7,348.6 2569.6,358.1 2575.3,368.5 2580.4,379.3 2584.8,390.4 2588,400.9 2590.5,412 2592.5,423.5 2594.1,435.1 2595.4,446.6 2596.6,457.9 2597.6,470.1 2598,481.8 2598.2,493.6 2598.2,506.2 2598.3,520 2598.4,530.1 2598.5,540.8 2598.5,552.2 2598.5,564 2598.5,576.2 2598.5,588.7 2598.4,601.2 2598.4,613.7 2598.3,626.1 2598.3,638.2 2598.3,650 2598.3,662.3 2598.3,674.9 2598.4,687.7 2598.4,700.5 2598.4,713.1 2598.5,725.4 2598.5,737.2 2598.4,748.3 2598.4,758.6 2598.3,768 2598.3,780 2598.4,790.4 2598.1,800 2597.2,810 2595.5,820.6 2593.3,831.1 2590.5,841.6 2587.1,852 2582.8,862.7 2577.9,873.2 2572.3,883.6 2566.1,893.8 2558.7,904.3 2550.5,914.6 2542,924.7"/>
<polygon class="a" points="2538.6,921.9 2533.6,935 2545.4,927.5"/>
<polyline class="e" points="393.9,265.5 380.2,303.5"/>
<polygon class="a" points="376.1,302 375.7,316 384.3,305"/>
<polyline class="e" points="410.7,265.5 420.6,275.9 430.6,286.3 441,297 451.6,307.2 461.7,315.9 472.5,324 481.2,329.5 490.4,334.6 500,339.4 509.9,343.9 520.2,348.1 531.4,352 543.2,355.4 556,358.6 569.6,361.6 583.9,364.6 594.8,366.8 606.4,369 618.4,371.2 630.7,373.3 643.2,375.4 655.5,377.4 667.7,379.3 679.7,381.1 691.6,382.9 703.6,384.6 715.6,386.3 727.6,387.8 739.6,389.3 751.6,390.8 763.7,392.2 776.1,393.6 788.5,394.9 800.8,396.1 812.9,397.2 824.4,398.3 835.4,399.2 849.6,400.3 862.9,401.1 875.6,401.9 887.8,402.5 900.7,403.1 911.7,403.5"/>
<polygon class="a" points="911.5,407.9 925,404 911.9,399.1"/>
<polyline class="e" points="596.2,265.5 430.8,312.4"/>
<polygon class="a" points="429.6,308.1 418,316 432,316.6"/>
<polyline class="e" points="639.5,265.5 626.1,303.5"/>
<polygon class="a" points="622,302 621.7,316 630.3,304.9"/>
<polyline class="e" points="667,265.5 675.9,271.2 684.6,276.9 693.6,282.6 703.1,288.4 712.5,293.8 722.3,299.2 732.4,304.7 740.9,309.3"/>
<polygon class="a" points="738.8,313.2 752.6,315.7 743,305.5"/>
<polyline class="e" points="830.2,265.5 795.9,305.6"/>
<polygon class="a" points="792.5,302.7 787.2,315.7 799.2,308.5"/>
<polyline class="e" points="849.1,265.5 854.5,275.2 860,285 864.8,295.1 868.8,306.8 872.2,318.9 875.3,330 878.7,340.5 881.6,351 883.3,361 884.6,371.8 885.7,382.4 887.2,396 888.3,410 888.6,421.8 888.4,434.5 888.3,450 888.3,459.2 888.3,469.8 888.3,481.5 888.3,494 888.3,507.3 888.3,520.9 888.3,534.8 888.3,548.7 888.3,562.4 888.3,575.6 888.3,588.3 888.3,600 888.3,613.5 888.3,626.7 888.3,639.5 888.3,652 888.3,664.2 888.3,676.3 888.3,688.2 888.3,700 888.3,712.4 888.3,725 888.3,737.7 888.3,749.8 888.3,761.2 888.3,771.4 888.3,780 888.1,791 888.3,800.6 889.4,812.8 891.4,825.8 893.7,836.5 896.5,847.8 899.8,859.3 903,869.3 906.7,879.7 910.5,890 914.5,900 919.6,911.8 924.7,922.5"/>
<polygon class="a" points="920.7,924.4 930.4,934.5 928.7,920.6"/>
<polyline class="e" points="860.2,265.5 869.5,272.4 878.7,279.4 887.8,286.8 897.4,295.4 906.7,304.6 915.1,314 921.5,323.1 927,332.4 931.9,340 939.2,348.4 946.5,363 950.7,371.4 954.8,379.7 955.4,381"/>
<polygon class="a" points="951.5,382.9 961.2,393 959.4,379.1"/>
<polyline class="e" points="877.4,265.5 887.8,270.1 898.3,274.9 908.7,279.6 919.1,284.2 929.6,288.7 940.3,293 951.3,297.1 962.4,301 973.6,304.7 984.8,308.3 994.7,311.5"/>
<polygon class="a" points="993.3,315.7 1007.3,315.7 996.1,307.3"/>
<polyline class="e" points="1820,265.7 1797.4,304"/>
<polygon class="a" points="1793.6,301.8 1790.6,315.5 1801.2,306.3"/>
<polyline class="e" points="1851.3,265.7 1924.1,308.7"/>
<polygon class="a" points="1921.9,312.5 1935.6,315.5 1926.4,304.9"/>
<polyline class="e" points="433.8,343.3 443.8,346 454.7,349.2 465.2,352.9 477.2,357.4 489.3,362.2 500,366.7 513.1,372.7 525.2,379.3 534.4,385.4 543.5,392.2 552.4,399.2 561.3,406.3 570,413.6 577.6,421.2 585.9,431.9 592.2,443.2 596.1,454.7 598.5,466.3 599.7,476.4 600.3,487.2 600.5,499.3 600.4,512.6 600.3,525 600.3,538.4 600.3,550 600.3,562.4 602.7,570.8 606,579.5 612,596.1 619.4,603.4 628,610 635.4,616.6 644.1,623.1 653.8,628.5 665.4,634.1 678.2,639.7 691.3,645 701.6,648.9 712.1,652.8 723.1,656.5 734.4,660.1 746.3,663.6 758.7,666.9 769.7,669.5 781.2,672.1 793.3,674.5 805.7,676.8 818.3,679.1 831,681.2 843.6,683.3 856,685.3 868,687.2 880.3,689.1 892.3,690.9 904.1,692.6 915.9,694.2 927.8,695.8 939.8,697.2 952.1,698.6 964.8,700 975.6,701.1 986.7,702.1 998,703.1 1009.5,704 1021.1,704.8 1032.7,705.7 1044.4,706.5 1056.1,707.2 1067.7,708 1079.2,708.7 1090.6,709.4 1102.6,710.1 1114.5,710.8 1126.4,711.4 1138.2,711.9 1150,712.5 1161.8,713 1173.6,713.5 1185.4,714 1195.7,714.5"/>
<polygon class="a" points="1195.5,718.9 1209,715.1 1195.9,710.1"/>
<polyline class="e" points="667.7,342.2 912,394.7"/>
<polygon class="a" points="911.1,399 925,397.5 912.9,390.4"/>
<polyline class="e" points="1008.8,417.3 1210.4,468.1"/>
<polygon class="a" points="1209.3,472.3 1223.3,471.3 1211.5,463.8"/>
<polyline class="e" points="1008.8,409.9 1020.8,411.3 1032.7,412.7 1044.6,414.1 1056.5,415.6 1068.5,417 1080.5,418.4 1092.6,419.9 1104.8,421.4 1116.3,422.8 1128,424.3 1139.8,425.8 1151.7,427.3 1163.6,428.8 1175.4,430.4 1187,431.9 1198.5,433.5 1209.6,435.1 1222.2,437 1234.6,438.8 1246.9,440.7 1258.9,442.7 1270.7,444.6 1282.2,446.6 1293.5,448.7 1306.9,451.2 1320,453.6 1332.7,456.2 1344.9,459 1356.4,462.3 1367.8,466.2 1378.5,470.5 1388.6,475.1 1398.3,480.1 1409.7,486.7 1420.4,493.8 1429.8,501.1 1439.3,510.2 1446.5,520 1450.6,530.4 1452.8,540.9 1452.8,557.7 1450.4,568.4 1446.2,578.9 1439.6,588.7 1431.6,597.7 1423.3,605.3 1414.8,612.4 1409.4,616.9"/>
<polygon class="a" points="1406.6,613.5 1399.1,625.4 1412.2,620.3"/>
<polyline class="e" points="1229.6,497.5 1071.4,544.5"/>
<polygon class="a" points="1070.2,540.3 1058.7,548.3 1072.7,548.7"/>
<polyline class="e" points="1261,497.5 1214.3,539.1"/>
<polygon class="a" points="1211.4,535.9 1204.4,548 1217.3,542.4"/>
<polyline class="e" points="1292.5,497.5 1339.2,539.1"/>
<polygon class="a" points="1336.2,542.4 1349.1,548 1342.1,535.9"/>
<polyline class="e" points="1329.1,497.5 1340.7,501.1 1352.4,504.6 1364,508.2 1375.6,511.8 1387.1,515.7 1398.3,520 1409.4,524.6 1420.5,529.5 1431.6,534.6 1442.2,540 1452.2,545.6 1461.2,551.4 1470.8,559.1 1479.3,567.4 1487.1,575.6 1494.5,583.1 1505.3,592.6 1515.4,601.9 1522.8,609.5 1528.4,615.6"/>
<polygon class="a" points="1525.2,618.6 1537.4,625.4 1531.6,612.6"/>
<polyline class="e" points="1341.7,497.5 1924.5,622.6"/>
<polygon class="a" points="1923.6,626.9 1937.5,625.4 1925.4,618.3"/>
<polyline class="e" points="1341.4,575.3 1330.6,582.6 1319.8,589.9 1310,597.7 1302.1,605.6 1295,614.1 1289,622.9 1282.9,636.2 1278.5,650.1 1275.4,663.7 1273.3,677.4 1272.3,690.2"/>
<polygon class="a" points="1267.9,690 1271.6,703.5 1276.7,690.4"/>
<polyline class="e" points="1367.2,575.3 1371.4,612.2"/>
<polygon class="a" points="1367,612.7 1372.9,625.4 1375.8,611.7"/>
<polyline class="e" points="1435.8,569.4 1447.1,571.5 1458.5,573.5 1469.8,575.6 1481.2,577.7 1492.4,579.8 1503.5,582.1 1516.5,584.9 1529.8,587.9 1542.8,590.9 1555,593.9 1566.1,596.8 1577.4,599.9 1587.5,602.8 1597.5,606.1 1607.8,609.9 1618.1,614 1628.8,618.7 1638.9,623.6 1649.4,629 1660,634.8 1670.5,640.6 1681,646.6 1691.5,652.7 1701.9,659 1712.3,665.6 1722.9,672.7 1733.4,680.2 1743.8,687.6 1754,694.9 1763.1,701.3 1772.1,707.6 1780.9,713.7 1789.5,719.9 1800.1,727.7 1810.4,735.5 1820,742.9 1829.8,750.8 1840,759.3 1848.4,766.6 1858.2,775.3 1868.4,784.4 1878,792.9 1886.1,800 1894.6,807 1902.9,814.1 1910.4,821.1 1919.1,829.5 1928.4,838.7 1937.5,847.7"/>
<polygon class="a" points="1934.4,850.8 1947,857 1940.6,844.5"/>
<polyline class="e" points="1357.1,652.5 1300.7,695.4"/>
<polygon class="a" points="1298,691.9 1290.1,703.5 1303.3,698.9"/>
<polyline class="e" points="1499.7,652.5 1488.6,655.6 1477.4,658.7 1466.3,661.8 1455.1,664.9 1444,668 1432.9,671.1 1421.7,674.2 1410.6,677.4 1399.5,680.6 1388.3,683.8 1377.2,687 1366,690.2 1354.9,693.5 1343.8,696.7 1334.3,699.5"/>
<polygon class="a" points="1333,695.3 1321.5,703.2 1335.5,703.7"/>
<polyline class="e" points="1550,652.5 1551.1,663.4 1552.3,674.2 1553.4,685.1 1554.4,696 1555.3,706.8 1556,720.7 1556.5,735 1556.9,748.5 1557.4,760 1557.9,766.7"/>
<polygon class="a" points="1553.5,767.1 1559,780 1562.3,766.4"/>
<polyline class="e" points="1935.4,652.5 1924.5,655.6 1913.2,658.7 1901.9,661.8 1891,664.9 1880.7,668.1 1871.4,671.3 1860.1,676 1850.2,680.8 1840,686 1830.7,690.4 1821,694.9 1811.5,699.9 1802.4,705.7 1793.4,713.1 1784.9,721.4 1776.7,730.3 1768.7,739.4 1760.6,749.1 1752.9,759.3 1745.5,769.4"/>
<polygon class="a" points="1742,766.7 1737.5,780 1749,772"/>
<polyline class="e" points="1209.5,721 1198.5,722.8 1187.6,724.5 1176.7,726.3 1165.7,728 1154.7,729.8 1143.7,731.6 1132.5,733.5 1120.5,735.5 1108.2,737.5 1095.8,739.5 1083.4,741.5 1071.3,743.7 1059.6,745.9 1048.7,748.2 1037.1,750.8 1026.1,753.5 1015.5,756.2 1005.6,759.3 996.3,762.9 984.6,768.5 974.1,774.8 964.8,781.8 954.2,792.6 946,804.8 941.9,814.1 938.9,824 936.5,834.2 934.5,845.2 933.2,856.5 932.3,867.7 931.9,878.5 931.9,889.2 932.3,900 933.1,911.4 934.1,921.3"/>
<polygon class="a" points="929.7,921.7 935.4,934.5 938.5,920.8"/>
<polyline class="e" points="1209.5,729.4 1198.4,732.3 1187.3,735.2 1176.1,738.1 1165,741 1153.9,743.8 1143.1,746.6 1132.5,749.3 1119.4,752.5 1106.5,755.5 1094,758.5 1081.6,761.6 1069.6,765 1058.9,768.4 1048.5,772.1 1038.4,775.9 1030.5,778.8"/>
<polygon class="a" points="1029,774.7 1018,783.4 1032,782.9"/>
<polyline class="e" points="1242.6,729.4 1230.4,735.8 1218.1,742.2 1205.9,748.2 1194.1,753.3 1182.3,758 1170.3,762.9 1160.7,767.1 1151,771.3 1143.7,774.6"/>
<polygon class="a" points="1141.9,770.6 1131.5,780 1145.4,778.6"/>
<polyline class="e" points="1272.5,729.5 1272.5,766.7"/>
<polygon class="a" points="1268.1,766.7 1272.5,780 1276.9,766.7"/>
<polyline class="e" points="1308.6,729.4 1320.2,734.8 1331.8,740.1 1342.2,746.1 1353.8,754.9 1363.1,765 1369.6,776.2 1373.6,788.1 1374.7,798.4 1373.6,809 1369.3,822.8 1363.1,836.3 1357.7,845.7"/>
<polygon class="a" points="1354,843.4 1350.6,857 1361.4,848.1"/>
<polyline class="e" points="1299.2,729.4 1309.1,734.5 1318.8,739.5 1328.4,744.5 1338,749.5 1347.8,754.5 1358,759.6 1368.7,764.8 1380,770.1 1389.8,774.5 1400.1,779.1 1410.8,783.7 1421.8,788.4 1433.1,793.2 1444.7,798 1456.4,802.8 1468.2,807.6 1480.1,812.4 1491.9,817.1 1503.7,821.8 1515.4,826.4 1526.8,830.9 1538.1,835.3 1549.4,839.7 1560.8,844.1 1572.2,848.5 1583.6,852.8 1595,857.1 1606.4,861.4 1617.8,865.6 1629.1,869.7 1640.3,873.7 1651.5,877.7 1662.5,881.6 1673.5,885.4 1685.5,889.5 1697.6,893.6 1709.8,897.6 1722.1,901.6 1734.2,905.5 1746.1,909.3 1757.7,912.9 1769,916.4 1779.7,919.6 1789.8,922.5 1799.3,925.2 1811.4,928.4 1822.3,931.1 1832.6,933.4 1840,935"/>
<polygon class="a" points="1839.1,939.3 1853,938 1841,930.7"/>
<polyline class="e" points="1321.2,729.4 1332.3,732.5 1343.3,735.6 1354.3,738.7 1365.3,741.8 1376.5,745 1388,748.1 1400,751.4 1411.4,754.5 1423.2,757.6 1435.3,760.8 1447.6,764 1460.1,767.2 1472.6,770.5 1485.2,773.7 1497.1,776.8"/>
<polygon class="a" points="1496,781.1 1510,780.2 1498.2,772.6"/>
<polyline class="e" points="1335.5,726.2 1348,728.2 1360.2,730.2 1372.5,732.2 1385.6,734.3 1400,736.7 1409.6,738.3 1419.9,740 1430.7,741.9 1442,743.8 1453.6,745.7 1465.4,747.8 1477.5,749.8 1489.5,751.9 1501.6,754 1513.4,756 1525.1,758 1536.4,760 1547.9,762 1559.4,764 1570.8,766 1582.1,768 1593.4,770 1604.7,772 1615.9,774 1627.2,776 1638.4,778 1647.9,779.7"/>
<polygon class="a" points="1647.1,784 1661,782 1648.7,775.4"/>
<polyline class="e" points="1660.9,807.4 1421.5,854.9"/>
<polygon class="a" points="1420.7,850.6 1408.5,857.5 1422.4,859.2"/>
<polyline class="e" points="1689.2,807.4 1678.2,811.1 1667.2,814.8 1656.1,818.6 1645.1,822.4 1634,826.2 1623,830 1612,833.7 1601,837.4 1590.2,840.9 1579.4,844.4 1568.7,847.7 1556.7,851.4 1544.8,854.9 1532.9,858.4 1521.1,861.9 1509.4,865.2 1497.8,868.3 1486.3,871.4 1475,874.3 1463.9,877 1451.6,879.9 1439.6,882.5 1427.9,884.9 1416.3,887.1 1404.5,889.3 1392.5,891.5 1380,893.8 1368.8,895.8 1357.5,897.8 1346.1,899.8 1334.6,901.8 1322.8,903.7 1310.8,905.7 1298.5,907.6 1285.8,909.5 1272.7,911.4 1261.7,912.9 1250.3,914.4 1238.4,916 1226.2,917.5 1213.7,919 1201.1,920.5 1188.4,922 1175.6,923.5 1163,924.9 1150.5,926.3 1138.3,927.7 1126.4,929 1115,930.3 1104,931.6 1091,933.1 1078.6,934.5 1066.5,935.8 1054.8,937.1 1043.2,938.4 1031.8,939.6 1020.3,940.9 1010.2,942"/>
<polygon class="a" points="1009.7,937.6 997,943.4 1010.7,946.3"/>
<polyline class="e" points="1740.6,807.4 1748.1,815.4 1755.6,823.4 1763.1,831.5 1770.6,839.5 1778.3,847.7 1786.5,856.4 1794.7,865.3 1803.1,874.2 1811.6,883 1820.3,891.7 1829.5,900.4 1838.8,909 1848.4,917.6 1857.5,925.8"/>
<polygon class="a" points="1854.6,929.1 1867.4,934.7 1860.5,922.5"/>
<polyline class="e" points="1268.8,884.5 1257.3,886.7 1245.5,889 1233.7,891.2 1222,893.5 1210.6,895.7 1199.6,897.9 1189.1,900 1176.1,902.8 1164.3,905.5 1152.2,908.3 1137.8,911.4 1128.5,913.4 1118.4,915.5 1107.5,917.7 1096,920 1084.1,922.5 1071.8,924.9 1059.2,927.5 1046.5,930 1033.8,932.6 1021.3,935.1 1010,937.4"/>
<polygon class="a" points="1009.2,933 997,940 1010.9,941.7"/>
<polyline class="e" points="1408.7,882.9 1420.3,884.7 1431.8,886.5 1443.4,888.2 1454.9,890 1466.4,891.8 1478,893.5 1489.5,895.3 1501.1,897.1 1512.7,898.9 1524.3,900.7 1536,902.5 1547.7,904.3 1559.9,906.2 1572.2,908.2 1584.7,910.2 1597.2,912.2 1609.8,914.3 1622.4,916.3 1634.9,918.3 1647.2,920.2 1659.4,922.1 1671.4,924 1683.1,925.7 1694.5,927.3 1707.1,929 1719.6,930.6 1732,932.1 1744.2,933.6 1756.1,934.9 1767.6,936.3 1778.7,937.5 1789.3,938.7 1799.3,939.9 1811.2,941.3 1822.1,942.6 1832.4,943.8 1839.8,944.7"/>
<polygon class="a" points="1839.3,949 1853,946.2 1840.3,940.3"/>
<polyline class="e" points="2248.8,652.4 2236.6,654.8 2224.3,657.1 2212.1,659.5 2199.8,661.9 2187.6,664.4 2175.4,667.1 2163,670 2150.5,673.1 2137.9,676.2 2125.6,679.5 2113.6,682.8 2102.1,686 2090.9,689.3 2080.1,692.7 2069.7,696 2059.6,699.4 2049.6,702.7 2038.8,706.3 2028.3,709.9 2018,713.6 2007.7,717.4 1997,721.4 1986.3,725.4 1975.8,729.7 1965.8,734.2 1954.6,740 1944.1,746.1 1934.3,753 1925.3,760.5 1917,768.7 1909.2,778.2 1902.5,788.3 1896.1,799.8 1890.5,811.6 1886.1,822.5 1883.1,832.5 1881.2,842.1 1879.8,851.9 1878.6,863 1878,874.3 1877.7,885.4 1877.9,900.6 1878.8,914.8 1879.8,921.9"/>
<polygon class="a" points="1875.4,922.6 1881.9,935 1884.1,921.2"/>
<polyline class="e" points="2303.3,652.4 2292.3,656.3 2281.1,660.3 2269.9,664.3 2258.9,668.2 2248.3,672 2238.3,675.5 2226.9,679.3 2216,682.9 2205.8,686.4 2196.4,690.1 2183.9,696.5"/>
<polygon class="a" points="2181.7,692.6 2172.3,703 2186,700.3"/>
<polyline class="e" points="2320.1,652.4 2310,661.4 2299.9,670.3 2290.7,679.7 2283.2,689 2276.4,698.7 2269.8,709 2264.3,718.1 2258.9,727.6 2253.7,737.3 2248.8,746.8 2243.3,758 2238.7,767.9"/>
<polygon class="a" points="2234.7,766.1 2233.1,780 2242.7,769.8"/>
<polyline class="e" points="2339.4,652.5 2339.4,689.7"/>
<polygon class="a" points="2335,689.7 2339.4,703 2343.8,689.7"/>
<polyline class="e" points="2360.7,652.4 2370.1,658.1 2379.4,663.8 2388.8,669.6 2398.4,675.5 2409.2,682.1 2420.2,689 2431.2,695.7"/>
<polygon class="a" points="2428.9,699.5 2442.5,702.7 2433.5,692"/>
<polyline class="e" points="2402.6,652.4 2414.3,655.4 2426.3,658.3 2438.2,661.1 2450,664.2 2461.2,667.5 2471.8,671.3 2484.8,676.7 2497.2,682.6 2508.4,689.1 2517.9,696.4 2525.8,705.5 2531.9,715.5 2536.8,725.8 2540.5,735.9 2543.1,746.4 2545.2,757.2 2547.2,768.9 2548.6,781 2549.4,793.2 2549.3,805.4 2548.6,817.8 2547.3,830.9 2546.1,841.2 2544.6,852.1 2542.8,863.3 2540.9,874.5 2538.9,885.4 2536.3,898 2533.4,910.4 2530.5,922.1"/>
<polygon class="a" points="2526.2,921 2527.4,935 2534.8,923.1"/>
<polyline class="e" points="2129.3,729.5 2124.1,739.1 2118.8,748.7 2113.6,758.3 2108.3,767.7 2101.5,779.7 2094.7,791.6 2087.4,803.6 2081.1,813.7 2074.4,824 2067.5,834.1 2060.1,843.5 2052.7,851.5 2044.9,858.9 2036.9,865.9 2028.7,872.8 2020.6,879.5 2012.3,885.9 2003.8,892.1 1995.1,898 1986,903.6 1976.7,908.9 1967.2,914 1957.4,918.9 1946.7,923.8 1935.7,928.4 1925.8,932.4"/>
<polygon class="a" points="1924.1,928.3 1913.5,937.4 1927.5,936.4"/>
<polyline class="e" points="2319,729.5 2258.6,772.3"/>
<polygon class="a" points="2256.1,768.7 2247.8,780 2261.2,775.9"/>
<polyline class="e" points="2335.6,729.5 2333.1,741.7 2330.5,754 2327.5,768 2325.4,777.4 2323.1,787.7 2320.6,798.7 2318,810.2 2315.2,822 2312.5,833.9 2310.2,844"/>
<polygon class="a" points="2305.9,843.1 2307.2,857 2314.5,845"/>
<polyline class="e" points="2349.3,729.5 2354.9,740.6 2360.6,751.9 2366,762.8 2370.8,773 2376.9,786.2 2381.7,799.4 2384.5,811.6 2386.3,824.7 2386.9,837.2 2385.6,852.5 2381.7,866.5 2375.2,878.1 2367,887.5 2352.3,895.9 2340.3,899.7 2326,903.2 2311.7,906.4 2299.2,909.4 2286.7,912.2 2272.6,914.8 2262.5,916.4 2251.6,917.8 2240,919.3 2227.9,920.6 2215.2,922 2202.2,923.4 2188.8,924.8 2178.4,925.9 2167.6,927 2156.4,928.1 2145,929.3 2133.2,930.4 2121.3,931.5 2109.3,932.6 2097.2,933.7 2085.1,934.8 2073.1,935.8 2061.3,936.8 2049.6,937.8 2037.2,938.8 2024.8,939.7 2012.4,940.6 2000,941.5 1987.6,942.3 1975.3,943.1 1962.9,943.9 1950.6,944.7 1938.2,945.5 1926.8,946.3"/>
<polygon class="a" points="1926.5,941.9 1913.5,947.2 1927.1,950.7"/>
<polyline class="e" points="2364.9,729.5 2374.7,737.3 2384.7,744.9 2394.3,752.8 2402.6,761.4 2409.1,770.4 2414.7,780 2419.5,789.8 2423.6,799.4 2427.5,810.1 2430.4,820.7 2432,830.9 2432.2,843.8 2429.9,856.1 2423.8,869.1 2415.2,881.2 2405.7,891.4 2394.2,900.1 2383,905.7 2370.4,910.3 2356.5,914.8 2344.8,918.3 2332,921.8 2318.8,925.2 2305.7,928.5 2293.6,931.5 2282.2,934.3 2271.3,936.9 2262.9,938.9"/>
<polygon class="a" points="2261.9,934.6 2250,942 2264,943.2"/>
<polyline class="e" points="2367,729.5 2377.7,735.8 2388.8,742 2399.7,748.2 2410,754.7 2419.4,761.4 2428.2,768.9 2436.2,776.6 2443.6,784.6 2450.8,793.2 2458.2,803 2465.2,813.4 2471.9,824.2 2478.1,835.1 2483.9,846.2 2489.3,857.6 2494.3,869.3 2499.1,881.2 2503,891.6 2506.5,902.3 2510,913.2 2512.8,922.3"/>
<polygon class="a" points="2508.7,923.7 2516.9,935 2517,921"/>
<polyline class="e" points="1959.5,807.4 1948.8,815.8 1938,824.2 1928.1,833 1919.5,841.7 1911.6,850.7 1905,860.2 1900.3,869.5 1896.7,879.1 1893.5,889.6 1890.8,900.2 1888.4,911.6 1886.5,921.9"/>
<polygon class="a" points="1882.2,921.1 1884,935 1890.9,922.8"/>
<polyline class="e" points="2005.6,807.4 2016.5,813.2 2027.4,819.1 2038.4,824.9 2049.6,830.9 2059.3,836 2069.1,841.2 2079,846.5 2087.1,850.8"/>
<polygon class="a" points="2085.1,854.7 2098.9,857 2089.2,846.9"/>
<polyline class="e" points="2180.7,807.4 2169.6,810.9 2158.5,814.4 2147.4,818 2136.2,821.5 2125.1,825 2114,828.4 2102.8,831.8 2091.6,835.1 2080.3,838.3 2068.9,841.4 2057.6,844.4 2046.1,847.4 2034.7,850.3 2023.3,853.3 2013.4,855.8"/>
<polygon class="a" points="2012.3,851.6 2000.5,859.2 2014.5,860.1"/>
<polyline class="e" points="2210,807.4 2202.3,814.5 2194.6,821.6 2185.9,828.8 2176.1,835.8 2165.3,842.8 2154.1,849.8"/>
<polygon class="a" points="2151.7,846.1 2142.9,857 2156.5,853.5"/>
<polyline class="e" points="2226.8,807.4 2225.3,820.5 2223.9,833.6 2222.4,846.8 2221,859.8 2219.5,872.8 2218,885.3 2216.6,897.8 2215.1,910.2 2213.7,921.8"/>
<polygon class="a" points="2209.3,921.3 2212.1,935 2218,922.3"/>
<polyline class="e" points="2241.5,807.4 2280.4,847.5"/>
<polygon class="a" points="2277.3,850.5 2289.7,857 2283.6,844.4"/>
<polyline class="e" points="2081.1,884.4 2070.7,887.5 2060.4,890.5 2050,893.6 2039.5,896.8 2028.7,900.1 2018.5,903.4 2007.9,906.8 1997.2,910.4 1986.5,914 1976,917.6 1965.8,921 1955,924.7 1944.5,928.2 1934.2,931.8 1926.1,934.6"/>
<polygon class="a" points="1924.7,930.4 1913.5,938.9 1927.5,938.7"/>
<polyline class="e" points="2139.8,884.4 2185.4,925.8"/>
<polygon class="a" points="2182.5,929 2195.3,934.7 2188.4,922.5"/>
<polyline class="e" points="2174.6,880.8 2186.2,882.9 2198,885.1 2209.9,887.2 2221.9,889.4 2233.9,891.5 2245.7,893.7 2257.4,895.8 2268.9,898 2280,900.1 2290.8,902.2 2301.2,904.3 2313.3,906.9 2324.7,909.5 2335.6,912 2346.3,914.5 2357.1,917.1 2368.2,919.6 2380,922.1 2391.4,924.4 2403.1,926.7 2415.1,928.9 2427.4,931.2 2439.8,933.4 2452.3,935.7 2464.8,937.9 2476.4,940"/>
<polygon class="a" points="2475.6,944.3 2489.5,942.4 2477.2,935.7"/>
<polyline class="e" points="2248.4,881.6 2236.7,883.9 2225.1,886.2 2213.4,888.6 2201.8,890.9 2190.1,893.2 2178.4,895.5 2166.5,897.8 2154.5,900.1 2143,902.2 2131.4,904.4 2119.5,906.5 2107.6,908.6 2095.7,910.8 2083.9,912.8 2072.2,914.9 2060.8,916.9 2049.6,918.9 2037,921.1 2024.4,923.4 2012,925.6 1999.9,927.7 1988,929.8 1976.7,931.8 1965.8,933.6 1951.9,935.9 1938.9,938 1926.6,939.9"/>
<polygon class="a" points="1925.9,935.6 1913.5,942 1927.3,944.3"/>
</g>
<text x="2221.2" y="24" textLength="145.3">AlarmTestMountImpl.h</text>
<text x="1907.2" y="102" textLength="136.3">acscomponentImpl.h</text>
<text x="2176.2" y="102" textLength="236.3">testCppAlarmSourceComponentsS.h</text>
<text x="1019.2" y="179" textLength="152.3">acsContainerServices.h</text>
<text x="2303.2" y="179" textLength="53.3">acsutil.h</text>
<text x="104.2" y="256" textLength="115.3">acscomponentS.h</text>
<text x="318.2" y="256" textLength="160.3">acsComponentListener.h</text>
<text x="576.2" y="256" textLength="134.3">acsThreadManager.h</text>
<text x="758.2" y="256" textLength="165.3">acsComponentSmartPtr.h</text>
<text x="1022.2" y="256" textLength="146.3">acsContainerServices.i</text>
<text x="1267.2" y="256" textLength="51.3">maciC.h</text>
<text x="1365.2" y="256" textLength="201.3">acsErrTypeContainerServices.h</text>
<text x="1613.2" y="256" textLength="68.3">cdbDALS.h</text>
<text x="1728.2" y="256" textLength="198.3">acsComponentStateManager.h</text>
<text x="2192.2" y="256" textLength="134.3">ace/Functor_String.h</text>
<text x="2374.2" y="256" textLength="56.3">ace/OS.h</text>
<text x="309.2" y="334" textLength="119.3">loggingLoggable.h</text>
<text x="576.2" y="334" textLength="78.3">acsThread.h</text>
<text x="701.2" y="334" textLength="145.3">ACSErrTypeCommon.h</text>
<text x="995.2" y="334" textLength="91.3">maciErrType.h</text>
<text x="1722.2" y="334" textLength="116.3">acscomponentC.h</text>
<text x="1886.2" y="334" textLength="141.3">acsErrTypeLifeCycle.h</text>
<text x="936.2" y="411" textLength="59.3">logging.h</text>
<text x="1204.2" y="488" textLength="142.3">loggingACEMACROS.h</text>
<text x="954.2" y="566" textLength="114.3">ace/Log_Record.h</text>
<text x="1114.2" y="566" textLength="146.3">loggingLoggingProxy.h</text>
<text x="1307.2" y="566" textLength="115.3">loggingMACROS.h</text>
<text x="1310.2" y="643" textLength="127.3">loggingGetLogger.h</text>
<text x="1484.2" y="643" textLength="129.3">loggingACSLogger.h</text>
<text x="1922.2" y="643" textLength="156.3">loggingLogSvcHandler.h</text>
<text x="2259.2" y="643" textLength="157.3">AlarmSystemInterface.h</text>
<text x="1220.2" y="720" textLength="102.3">loggingLogger.h</text>
<text x="2074.2" y="720" textLength="122.3">ASIConfiguration.h</text>
<text x="2293.2" y="720" textLength="89.3">ASIMessage.h</text>
<text x="2430.2" y="720" textLength="66.3">ace/Task.h</text>
<text x="986.2" y="798" textLength="18.3">list</text>
<text x="1050.2" y="798" textLength="100.3">ace/Singleton.h</text>
<text x="1198.2" y="798" textLength="146.3">ace/Thread_Manager.h</text>
<text x="1494.2" y="798" textLength="130.3">ace/Thread_Mutex.h</text>
<text x="1672.2" y="798" textLength="110.3">loggingHandler.h</text>
<text x="1931.2" y="798" textLength="96.3">AlarmSource.h</text>
<text x="2189.2" y="798" textLength="76.3">FaultState.h</text>
<text x="1280.2" y="875" textLength="115.3">loggingBaseLog.h</text>
<text x="1931.2" y="875" textLength="56.3">iostream</text>
<text x="2085.2" y="875" textLength="76.3">Properties.h</text>
<text x="2259.2" y="875" textLength="85.3">Timestamp.h</text>
<text x="892.2" y="952" textLength="91.3">lokiSmartPtr.h</text>
<text x="1864.2" y="952" textLength="36.3">string</text>
<text x="2183.2" y="952" textLength="53.3">memory</text>
<text x="2500.2" y="952" textLength="40.3">vector</text>
</svg></body></html>
